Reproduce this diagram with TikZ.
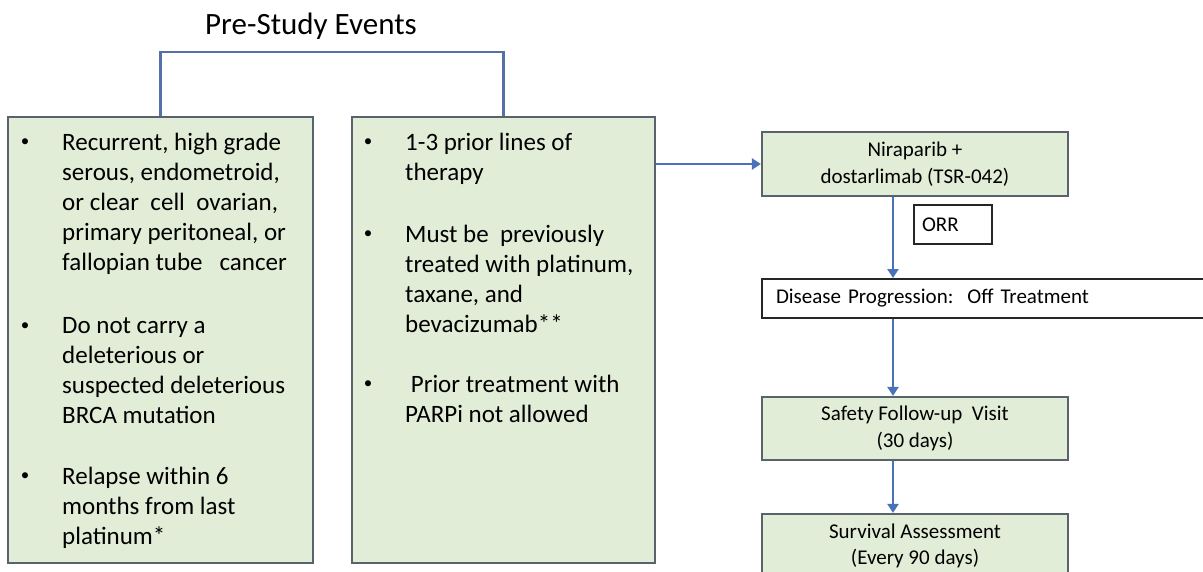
\documentclass[tikz,border=0pt]{standalone}
\usepackage{fontspec}
\setmainfont{Carlito}
\usetikzlibrary{arrows.meta,calc}
\definecolor{boxfill}{HTML}{E2EDD8}
\definecolor{boxline}{HTML}{59636E}
\definecolor{arrowblue}{HTML}{4A72B8}
\definecolor{bracketblue}{HTML}{5470A8}
\tikzset{
  gbox/.style={draw=boxline, line width=2.2pt, fill=boxfill, inner sep=0pt},
  wbox/.style={draw=black!85, line width=2pt, fill=white, inner sep=0pt},
  para/.style={anchor=north west, inner sep=0pt, align=left, font=\fontsize{25}{30}\selectfont},
  bul/.style={inner sep=0pt, font=\fontsize{17}{30}\selectfont},
  rtext/.style={align=center, font=\fontsize{21}{26.5}\selectfont},
  arr/.style={draw=arrowblue, line width=2.8pt, -{Triangle[width=11pt,length=9pt]}},
  brk/.style={draw=bracketblue, line width=2.6pt}
}
\begin{document}
\begin{tikzpicture}[x=1pt,y=-1pt]
\useasboundingbox (0,0) rectangle (1203,571);
% title
\node[font=\fontsize{31}{34}\selectfont] (T) at (311,26) {Pre-Study Events};
% left box
\node[gbox, minimum width=305pt, minimum height=446pt] (L) at (160.5,340) {};
\node[bul] (Lb1) at (25,143) {•};
\node[bul] (Lb2) at (25,327) {•};
\node[bul] (Lb3) at (25,477) {•};
\node[para] (Lp1) at (62,133) {Recurrent, high grade\\serous, endometroid,\\or clear\ \ cell\ \ ovarian,\\primary peritoneal, or\\fallopian tube\ \ \ cancer};
\node[para] (Lp2) at (62,317) {Do not carry a\\deleterious or\\suspected deleterious\\BRCA mutation};
\node[para] (Lp3) at (62,467) {Relapse within 6\\months from last\\platinum*};
% middle box
\node[gbox, minimum width=303pt, minimum height=446pt] (M) at (503.5,340) {};
\node[bul] (Mb1) at (368,143) {•};
\node[bul] (Mb2) at (368,235) {•};
\node[bul] (Mb3) at (368,385) {•};
\node[para] (Mp1) at (405,133) {1-3 prior lines of\\therapy};
\node[para] (Mp2) at (405,225) {Must be\ \ previously\\treated with platinum,\\taxane, and\\bevacizumab**};
\node[para] (Mp3) at (405,375) {\ Prior treatment with\\PARPi not allowed};
% bracket
\draw[brk] (L.north) -- ++(0,-64) -| (M.north);
% right column
\node[gbox, minimum width=306pt, minimum height=64pt, rtext] (N) at (915,164) {Niraparib +\\dostarlimab (TSR-042)};
\node[wbox, minimum width=78pt, minimum height=39pt, text width=62pt, align=left, font=\fontsize{21}{26}\selectfont] (O) at (953,224.5) {ORR};
\node[wbox, minimum width=453pt, minimum height=39pt, text width=425pt, align=left, font=\fontsize{21}{26}\selectfont] (D) at (988.5,298.5) {Disease Progression:\ \ Off Treatment};
\node[gbox, minimum width=306pt, minimum height=63pt, rtext] (S) at (915,428.5) {Safety Follow-up\ \ Visit\\(30 days)};
\node[gbox, minimum width=306pt, minimum height=64pt, rtext] (V) at (915,546) {Survival Assessment\\(Every 90 days)};
% arrows
\draw[arr] (M.east |- N.west) -- (N.west);
\draw[arr] ([xshift=-22pt]N.south) -- ([xshift=-22pt]N.south |- D.north);
\draw[arr] ([xshift=-22pt]N.south |- D.south) -- ([xshift=-22pt]S.north);
\draw[arr] ([xshift=-22pt]S.south) -- ([xshift=-22pt]V.north);
\end{tikzpicture}
\end{document}
